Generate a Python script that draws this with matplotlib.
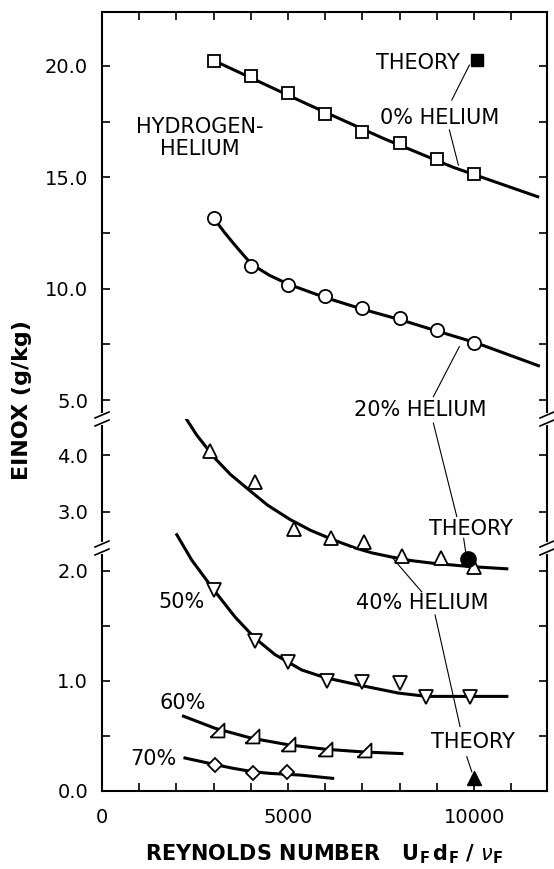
import numpy as np
import matplotlib
matplotlib.use('Agg')
from matplotlib import pyplot as plt
from matplotlib.lines import Line2D
from matplotlib.patches import ConnectionPatch

# ---- data ----
# 0% helium (open squares) + faired curve
re_0 = [3000, 4000, 5000, 6000, 7000, 8000, 9000, 10000]
ei_0 = [20.22, 19.57, 18.80, 17.83, 17.03, 16.53, 15.82, 15.16]
fit_re_0 = [3000, 5500, 7560, 9440, 11710]
fit_ei_0 = [20.25, 18.3, 16.75, 15.45, 14.13]

# 20% helium (open circles)
re_20 = [3000, 4000, 5000, 6000, 7000, 8000, 9000, 10000]
ei_20 = [13.17, 11.04, 10.15, 9.65, 9.14, 8.69, 8.16, 7.57]
fit_re_20 = [3000, 3280, 3530, 3780, 4020, 4500, 5010, 6000, 7020, 8030, 9020, 10050, 11730]
fit_ei_20 = [13.17, 12.55, 12.04, 11.55, 11.1, 10.6, 10.2, 9.6, 9.07, 8.6, 8.09, 7.57, 6.54]

# 40% helium (triangles) - curve crosses the axis break
re_40 = [2900, 4100, 5150, 6150, 7050, 8050, 9100, 10000]
ei_40 = [4.07, 3.52, 2.71, 2.55, 2.47, 2.14, 2.12, 2.04]
fit_re_40_hi = [2280, 2545, 3040, 3450, 3890, 4450, 5050, 5600, 6220, 6800]
fit_ei_40_hi = [4.62, 4.35, 3.94, 3.66, 3.42, 3.12, 2.87, 2.68, 2.51, 2.37]
fit_re_40_lo = [6800, 7250, 7740, 8300, 8900, 9900, 10880]
fit_ei_40_lo = [2.21, 2.165, 2.13, 2.095, 2.07, 2.04, 2.02]

# 50% helium (inverted triangles)
re_50 = [3000, 4100, 5000, 6050, 7000, 8000, 8700, 9900]
ei_50 = [1.83, 1.36, 1.17, 1.00, 0.99, 0.98, 0.85, 0.85]
fit_re_50 = [2010, 2410, 3000, 3580, 4110, 4650, 5370, 6000, 7020, 7970, 8730, 10880]
fit_ei_50 = [2.33, 2.10, 1.83, 1.58, 1.39, 1.24, 1.10, 1.03, 0.955, 0.89, 0.86, 0.86]

# 60% helium (right triangles)
re_60 = [3100, 4020, 5010, 6000, 7050]
ei_60 = [0.555, 0.50, 0.43, 0.38, 0.37]
fit_re_60 = [2190, 3040, 4020, 5010, 6000, 7020, 8060]
fit_ei_60 = [0.68, 0.57, 0.48, 0.42, 0.38, 0.355, 0.34]

# 70% helium (diamonds)
re_70 = [3040, 4070, 4980]
ei_70 = [0.236, 0.166, 0.175]
fit_re_70 = [2230, 3040, 3530, 4060, 4520, 5320, 6200]
fit_ei_70 = [0.30, 0.24, 0.206, 0.175, 0.16, 0.145, 0.115]

# theory points
theory_re = [10090, 9840, 10000]
theory_ei = [20.27, 2.11, 0.12]

plt.rcParams['font.family'] = ['DejaVu Sans']

W, H = 554, 869
fig = plt.figure(figsize=(W / 100, H / 100), dpi=100)

x0, x1 = 102 / W, 547 / W
ax_top = fig.add_axes([x0, 1 - 419 / H, x1 - x0, 407 / H])
ax_mid = fig.add_axes([x0, 1 - 548 / H, x1 - x0, 129 / H])
ax_bot = fig.add_axes([x0, 1 - 791 / H, x1 - x0, 243 / H])

ax_top.set_ylim(4.147, 22.425)
ax_mid.set_ylim(2.368, 4.632)
ax_bot.set_ylim(0, 2.209)

for ax in (ax_top, ax_mid, ax_bot):
    ax.set_xlim(0, 11960)
    for s in ax.spines.values():
        s.set_linewidth(1.5)
    ax.tick_params(direction='in', length=6, width=1.2, labelsize=14, pad=10,
                   left=True, right=True, labelright=False)
    ax.patch.set_alpha(0)

ax_top.spines['bottom'].set_visible(False)
ax_mid.spines['bottom'].set_visible(False)
ax_mid.spines['top'].set_visible(False)
ax_bot.spines['top'].set_visible(False)

xt = np.arange(0, 12000, 1000)
xl = ['0' if v == 0 else ('5000' if v == 5000 else ('10000' if v == 10000 else '')) for v in xt]
ax_top.set_xticks(xt)
ax_top.tick_params(axis='x', bottom=False, top=True, labelbottom=False)
ax_mid.set_xticks([])
ax_bot.set_xticks(xt)
ax_bot.set_xticklabels(xl)
ax_bot.tick_params(axis='x', pad=12)

ax_top.set_yticks([5, 7.5, 10, 12.5, 15, 17.5, 20])
ax_top.set_yticklabels(['5.0', '', '10.0', '', '15.0', '', '20.0'])
ax_mid.set_yticks([3, 4])
ax_mid.set_yticklabels(['3.0', '4.0'])
ax_bot.set_yticks([0, 0.5, 1, 1.5, 2])
ax_bot.set_yticklabels(['0.0', '', '1.0', '', '2.0'])

LW = 2.2
mk = dict(mfc='white', mec='black', mew=1.3, ls='none', zorder=3, clip_on=False)

# curves
ax_top.plot(fit_re_0, fit_ei_0, 'k-', lw=LW)
ax_top.plot(fit_re_20, fit_ei_20, 'k-', lw=LW)
ax_mid.plot(fit_re_40_hi, fit_ei_40_hi, 'k-', lw=LW)
ax_bot.plot(fit_re_40_lo, fit_ei_40_lo, 'k-', lw=LW)
ax_bot.plot(fit_re_50, fit_ei_50, 'k-', lw=LW, clip_on=False)
ax_bot.plot(fit_re_60, fit_ei_60, 'k-', lw=LW)
ax_bot.plot(fit_re_70, fit_ei_70, 'k-', lw=LW)

# points
ax_top.plot(re_0, ei_0, marker='s', ms=8, **mk)
ax_top.plot(re_20, ei_20, marker='o', ms=9.5, **mk)
re40 = np.array(re_40)
ei40 = np.array(ei_40)
hi = ei40 > 2.3
ax_mid.plot(re40[hi], ei40[hi], marker='^', ms=9.5, **mk)
ax_bot.plot(re40[~hi], ei40[~hi], marker='^', ms=9.5, **mk)
ax_bot.plot(re_50, ei_50, marker='v', ms=9.5, **mk)
ax_bot.plot(re_60, ei_60, marker=[(-1, -1), (1, -1), (1, 1), (-1, -1)], ms=10, **mk)
ax_bot.plot(re_70, ei_70, marker='D', ms=7.5, **mk)

# theory
ax_top.plot(theory_re[0], theory_ei[0], 's', color='black', ms=8.4, zorder=4)
ax_bot.plot(theory_re[1], theory_ei[1], 'o', color='black', ms=11, zorder=4)
ax_bot.plot(theory_re[2], theory_ei[2], '^', color='black', ms=10, zorder=4, clip_on=False)

# labels
tk = dict(fontsize=15, ha='center', va='center')
ax_top.text(8481, 20.13, 'THEORY', **tk)
ax_top.text(9086, 17.67, '0% HELIUM', **tk)
ax_top.text(2630, 16.77, 'HYDROGEN-\nHELIUM', linespacing=1.15, **tk)
ax_top.text(8548, 4.55, '20% HELIUM', **tk)
ax_mid.text(9915, 2.71, 'THEORY', **tk)
ax_bot.text(8618, 1.706, '40% HELIUM', **tk)
ax_bot.text(9981, 0.448, 'THEORY', **tk)
ax_bot.text(2142, 1.72, '50%', **tk)
ax_bot.text(2169, 0.80, '60%', **tk)
ax_bot.text(1380, 0.29, '70%', **tk)

# leader lines
thin = dict(color='black', lw=0.8)
ax_top.plot([9400, 9874], [18.47, 20.04], **thin)
ax_top.plot([9336, 9578], [17.13, 15.55], **thin)
ax_top.plot([8906, 9605], [5.15, 7.40], **thin)
ax_mid.plot([8906, 9535], [4.56, 2.92], **thin)
fig.add_artist(ConnectionPatch((9720, 2.54), (9775, 2.17), 'data', 'data',
                               axesA=ax_mid, axesB=ax_bot, arrowstyle='-', **thin))
ax_bot.plot([7787, 8594], [2.127, 1.81], **thin)
ax_bot.plot([8952, 9624], [1.60, 0.585], **thin)
ax_bot.plot([9804, 9938], [0.312, 0.175], **thin)

# axis break marks on both spines
for a in (ax_top, ax_mid):
    yb = a.get_position().y0
    for xb in (x0, x1):
        fig.add_artist(Line2D([xb, xb], [yb - 4 / H, yb + 4 / H], color='white',
                              lw=3, transform=fig.transFigure))
        for dy in (-4, 4):
            fig.add_artist(Line2D([xb - 7 / W, xb + 7 / W],
                                  [yb + (dy - 3) / H, yb + (dy + 3) / H],
                                  color='black', lw=1.2, transform=fig.transFigure))

fig.text(324.5 / W, 1 - 860 / H,
         r'REYNOLDS NUMBER   U$_\mathregular{F}\,$d$_\mathregular{F}$ / $\nu_\mathregular{F}$',
         ha='center', va='baseline', fontsize=15, fontweight='bold')
fig.text(22 / W, 1 - 400 / H, 'EINOX (g/kg)', rotation=90, ha='center', va='center',
         fontsize=16, fontweight='bold')

fig.savefig('out.png', dpi=100)
